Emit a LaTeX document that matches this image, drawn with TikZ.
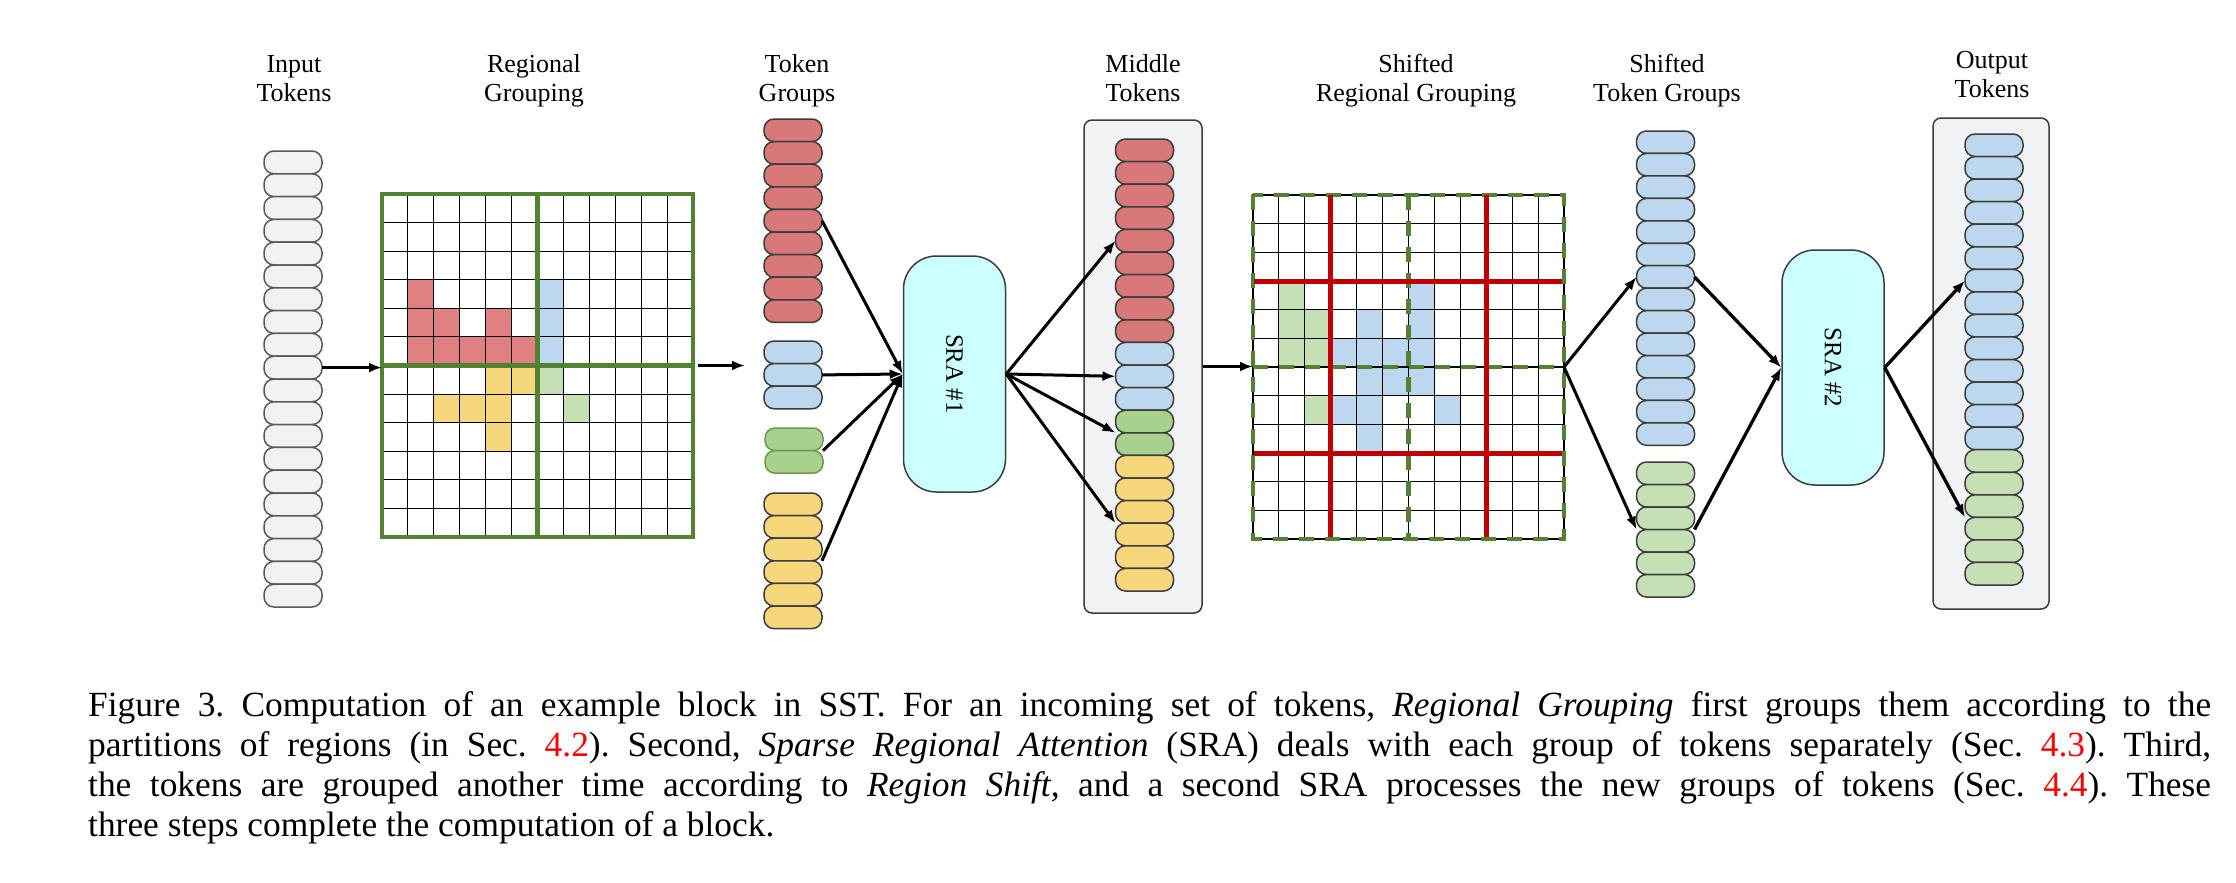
\documentclass[tikz,border=0pt]{standalone}
\usepackage{fontspec}
\usepackage{graphicx}
\setmainfont{Liberation Serif}
\usetikzlibrary{arrows.meta,calc}
\definecolor{tokgray}{HTML}{F1F2F4}
\definecolor{tokred}{HTML}{D87878}
\definecolor{cellred}{HTML}{E08080}
\definecolor{tokblue}{HTML}{BDD7EE}
\definecolor{tokgreenA}{HTML}{A9D18E}
\definecolor{tokgreenB}{HTML}{C5E0B4}
\definecolor{tokgreenedge}{HTML}{6B9A4F}
\definecolor{tokyellow}{HTML}{F7D77B}
\definecolor{sracyan}{HTML}{CCFFFF}
\definecolor{panelgray}{HTML}{F1F2F4}
\definecolor{gridgreen}{HTML}{548235}
\definecolor{gridred}{HTML}{C00000}
\definecolor{edgegray}{HTML}{3C3C3C}
\tikzset{
  tok/.style={draw=edgegray, line width=1.5pt, rounded corners=10pt, minimum width=58pt,
    minimum height=22.6pt, inner sep=0pt, outer sep=0pt},
  lab/.style={font=\fontsize{26}{28}\selectfont, anchor=base, inner sep=0pt},
  captext/.style={font=\fontsize{35.4}{40}\selectfont\frenchspacing, anchor=base west, inner sep=0pt},
  conn/.style={line width=3pt, -{Latex[length=13pt,width=10pt]}},
  sra/.style={draw=edgegray, fill=sracyan, rounded corners=33pt, minimum width=102pt,
    inner sep=0pt, line width=1.5pt, font=\fontsize{25}{27}\selectfont},
  panel/.style={draw=edgegray, fill=panelgray, rounded corners=8pt, line width=1.5pt, inner sep=0pt},
  gridbox/.style={inner sep=0pt, outer sep=0pt, minimum width=311pt},
  cellgrid/.style={black, line width=1.1pt},
  region/.style={gridgreen, line width=4.5pt},
  shiftregion/.style={gridgreen, line width=4.5pt, dash pattern=on 15pt off 11pt},
  shiftline/.style={gridred, line width=5pt}
}
\begin{document}
\begin{tikzpicture}[x=1pt,y=-1pt]
\useasboundingbox (0,0) rectangle (2236,883);
\fill[white] (0,0) rectangle (2236,883);

% ---------- labels ----------
\node[lab] (l1a) at (294,72.5) {Input};
\node[lab] (l1b) at (294,101.5) {Tokens};
\node[lab] (l2a) at (534,72.5) {Regional};
\node[lab] (l2b) at (534,101.5) {Grouping};
\node[lab] (l3a) at (797,72.5) {Token};
\node[lab] (l3b) at (797,101.5) {Groups};
\node[lab] (l4a) at (1143,72.5) {Middle};
\node[lab] (l4b) at (1143,101.5) {Tokens};
\node[lab] (l5a) at (1416,72.5) {Shifted};
\node[lab] (l5b) at (1416,101.5) {Regional Grouping};
\node[lab] (l6a) at (1667,72.5) {Shifted};
\node[lab] (l6b) at (1667,101.5) {Token Groups};
\node[lab] (l7a) at (1992,68.5) {Output};
\node[lab] (l7b) at (1992,97.5) {Tokens};

% ---------- input tokens ----------
\foreach \i in {1,...,20}
  \node[tok, fill=tokgray, draw=edgegray!85, minimum height=22.8pt] (in\i) at (293,{151+(\i-0.5)*22.8}) {};

% ---------- grid 1: regional grouping ----------
\def\gw{25.9167}
\def\gh{28.5833}
\node[gridbox, minimum height=343pt] (g1) at (537.5,365.5) {};
\foreach \r/\c in {3/1,4/1,4/2,4/4,5/1,5/2,5/3,5/4,5/5}
  \fill[cellred] ({382+\c*\gw},{194+\r*\gh}) rectangle ++(\gw,\gh);
\foreach \r/\c in {3/6,4/6,5/6}
  \fill[tokblue] ({382+\c*\gw},{194+\r*\gh}) rectangle ++(\gw,\gh);
\foreach \r/\c in {6/4,6/5,7/2,7/3,7/4,8/4}
  \fill[tokyellow] ({382+\c*\gw},{194+\r*\gh}) rectangle ++(\gw,\gh);
\foreach \r/\c in {6/6,7/7}
  \fill[tokgreenB] ({382+\c*\gw},{194+\r*\gh}) rectangle ++(\gw,\gh);
\foreach \k in {1,...,11} {
  \draw[cellgrid] ({382+\k*\gw},194) -- ({382+\k*\gw},537);
  \draw[cellgrid] (382,{194+\k*\gh}) -- (693,{194+\k*\gh});
}
\draw[region] (g1.north west) rectangle (g1.south east);
\draw[region] (g1.north) -- (g1.south);
\draw[region] (g1.west) -- (g1.east);

% ---------- token groups ----------
\foreach \i in {1,...,9}
  \node[tok, fill=tokred] (tgr\i) at (793,{119+(\i-0.5)*22.6}) {};
\foreach \i in {1,2,3}
  \node[tok, fill=tokblue] (tgb\i) at (793,{341+(\i-0.5)*22.6}) {};
\foreach \i in {1,2}
  \node[tok, fill=tokgreenA, draw=tokgreenedge] (tgg\i) at (794,{428+(\i-0.5)*22.6}) {};
\foreach \i in {1,...,6}
  \node[tok, fill=tokyellow] (tgy\i) at (793,{493+(\i-0.5)*22.6}) {};

% ---------- SRA #1 ----------
\node[sra, minimum height=236pt] (sra1) at (954.5,374) {\rotatebox{-90}{SRA \#1}};

% ---------- middle tokens ----------
\node[panel, minimum width=118pt, minimum height=493pt] (midp) at (1143,366.5) {};
\foreach \i in {1,...,9}
  \node[tok, fill=tokred] (mid\i) at (1144.5,{139+(\i-0.5)*22.6}) {};
\foreach \i in {10,11,12}
  \node[tok, fill=tokblue] (mid\i) at (1144.5,{139+(\i-0.5)*22.6}) {};
\foreach \i in {13,14}
  \node[tok, fill=tokgreenA] (mid\i) at (1144.5,{139+(\i-0.5)*22.6}) {};
\foreach \i in {15,...,20}
  \node[tok, fill=tokyellow] (mid\i) at (1144.5,{139+(\i-0.5)*22.6}) {};

% ---------- grid 2: shifted regional grouping ----------
\def\hh{28.6667}
\node[gridbox, minimum height=344pt] (g2) at (1408.5,367) {};
\foreach \r/\c in {3/1,4/1,4/2,5/1,5/2,7/2}
  \fill[tokgreenB] ({1253+\c*\gw},{195+\r*\hh}) rectangle ++(\gw,\hh);
\foreach \r/\c in {3/6,4/4,4/6,5/3,5/4,5/5,5/6,6/4,6/5,6/6,7/3,7/4,7/7,8/4}
  \fill[tokblue] ({1253+\c*\gw},{195+\r*\hh}) rectangle ++(\gw,\hh);
\foreach \k in {1,...,11} {
  \draw[cellgrid] ({1253+\k*\gw},195) -- ({1253+\k*\gw},539);
  \draw[cellgrid] (1253,{195+\k*\hh}) -- (1564,{195+\k*\hh});
}
\draw[cellgrid] (g2.north west) rectangle (g2.south east);
\draw[shiftregion] (g2.north west) rectangle (g2.south east);
\draw[shiftregion] (g2.north) -- (g2.south);
\draw[shiftregion] (g2.west) -- (g2.east);
\foreach \c in {3,9}
  \draw[shiftline] ({1253+\c*\gw},195) -- ({1253+\c*\gw},537);
\foreach \r in {3,9}
  \draw[shiftline] (1254,{195+\r*\hh}) -- (1562,{195+\r*\hh});

% ---------- shifted token groups ----------
\foreach \i in {1,...,14}
  \node[tok, fill=tokblue, minimum height=22.45pt] (sb\i) at (1665.5,{131+(\i-0.5)*22.45}) {};
\foreach \i in {1,...,6}
  \node[tok, fill=tokgreenB, minimum height=22.5pt] (sg\i) at (1665.5,{462+(\i-0.5)*22.5}) {};

% ---------- SRA #2 ----------
\node[sra, minimum height=235pt] (sra2) at (1833,367.5) {\rotatebox{-90}{SRA \#2}};

% ---------- output tokens ----------
\node[panel, minimum width=116pt, minimum height=491pt] (outp) at (1991,363.5) {};
\foreach \i in {1,...,14}
  \node[tok, fill=tokblue, minimum height=22.55pt] (out\i) at (1994,{134+(\i-0.5)*22.55}) {};
\foreach \i in {15,...,20}
  \node[tok, fill=tokgreenB, minimum height=22.55pt] (out\i) at (1994,{134+(\i-0.5)*22.55}) {};

% ---------- connectors ----------
\draw[conn, line width=2.5pt] (in10.east) -- (in10.east -| g1.west);
\draw[conn, line width=2.5pt, shorten <=5pt, shorten >=19pt] (g1.east) -- (g1.east -| tgb1.west);
\draw[conn] (tgr5.east) -- (sra1.west);
\draw[conn] (tgb2.east) -- (sra1.west);
\draw[conn] (tgg1.south east) -- (sra1.west);
\draw[conn] (tgy3.south east) -- (sra1.west);
\draw[conn] (sra1.east) -- (mid5.west);
\draw[conn] (sra1.east) -- (mid11.west);
\draw[conn] (sra1.east) -- (mid13.south west);
\draw[conn] (sra1.east) -- (mid17.south west);
\draw[conn, line width=2.5pt] (midp.east) -- (midp.east -| g2.west);
\draw[conn] (g2.east) -- (sb7.west);
\draw[conn] (g2.east) -- (sg3.south west);
\draw[conn, line width=3.3pt] (sb7.east) -- (sra2.west);
\draw[conn, line width=3.3pt] (sg3.south east) -- (sra2.west);
\draw[conn, line width=3.3pt] (sra2.east) -- (out7.west);
\draw[conn, line width=3.3pt] (sra2.east) -- (out17.south west);

% ---------- caption ----------
\node[captext] (cap1) at (88,716) {\makebox[2123pt][s]{Figure 3. Computation of an example block in SST. For an incoming set of tokens, \textit{Regional Grouping} first groups them according to the}};
\node[captext] (cap2) at (88,756) {\makebox[2123pt][s]{partitions of regions (in Sec. \textcolor{red}{4.2}). Second, \textit{Sparse Regional Attention} (SRA) deals with each group of tokens separately (Sec. \textcolor{red}{4.3}). Third,}};
\node[captext] (cap3) at (88,796) {\makebox[2123pt][s]{the tokens are grouped another time according to \textit{Region Shift}, and a second SRA processes the new groups of tokens (Sec. \textcolor{red}{4.4}). These}};
\node[captext] (cap4) at (88,836) {three steps complete the computation of a block.};
\end{tikzpicture}
\end{document}
